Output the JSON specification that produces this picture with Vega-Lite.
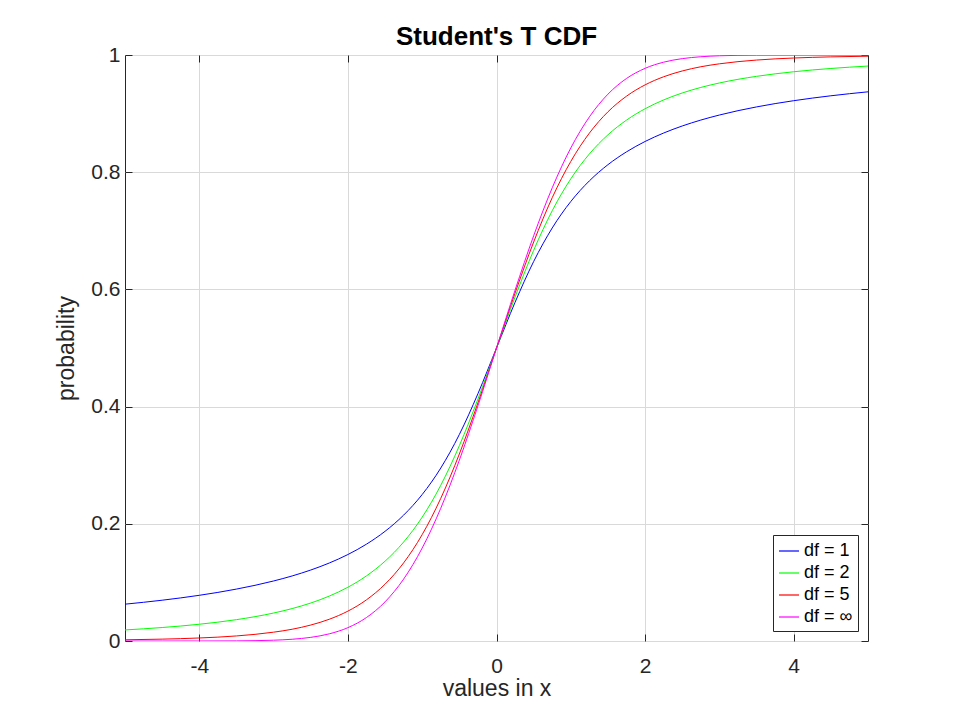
{
  "$schema": "https://vega.github.io/schema/vega-lite/v6.json",
  "width": 743,
  "height": 586,
  "autosize": {"type": "none"},
  "padding": {"left": 125, "top": 55, "right": 92, "bottom": 79},
  "background": "white",
  "config": {
    "font": "Liberation Sans",
    "view": {"stroke": "#262626", "strokeWidth": 1}
  },
  "title": {"text": "Student's T CDF", "fontSize": 26, "fontWeight": "bold", "color": "#000000", "offset": -6, "font": "Liberation Sans"},
  "data": {"values": [
    {"x": -5, "p": 0.06283, "df": "df = 1"}, {"x": -4.5, "p": 0.06960, "df": "df = 1"}, {"x": -4, "p": 0.07798, "df": "df = 1"}, {"x": -3.5, "p": 0.08859, "df": "df = 1"}, {"x": -3, "p": 0.10242, "df": "df = 1"}, {"x": -2.75, "p": 0.11102, "df": "df = 1"}, {"x": -2.5, "p": 0.12112, "df": "df = 1"}, {"x": -2.25, "p": 0.13313, "df": "df = 1"}, {"x": -2, "p": 0.14758, "df": "df = 1"}, {"x": -1.75, "p": 0.16525, "df": "df = 1"}, {"x": -1.5, "p": 0.18717, "df": "df = 1"}, {"x": -1.25, "p": 0.21478, "df": "df = 1"}, {"x": -1, "p": 0.25, "df": "df = 1"}, {"x": -0.75, "p": 0.29517, "df": "df = 1"}, {"x": -0.5, "p": 0.35242, "df": "df = 1"}, {"x": -0.25, "p": 0.42202, "df": "df = 1"}, {"x": 0, "p": 0.5, "df": "df = 1"}, {"x": 0.25, "p": 0.57798, "df": "df = 1"}, {"x": 0.5, "p": 0.64758, "df": "df = 1"}, {"x": 0.75, "p": 0.70483, "df": "df = 1"}, {"x": 1, "p": 0.75, "df": "df = 1"}, {"x": 1.25, "p": 0.78522, "df": "df = 1"}, {"x": 1.5, "p": 0.81283, "df": "df = 1"}, {"x": 1.75, "p": 0.83475, "df": "df = 1"}, {"x": 2, "p": 0.85242, "df": "df = 1"}, {"x": 2.25, "p": 0.86687, "df": "df = 1"}, {"x": 2.5, "p": 0.87888, "df": "df = 1"}, {"x": 2.75, "p": 0.88898, "df": "df = 1"}, {"x": 3, "p": 0.89758, "df": "df = 1"}, {"x": 3.5, "p": 0.91141, "df": "df = 1"}, {"x": 4, "p": 0.92202, "df": "df = 1"}, {"x": 4.5, "p": 0.93040, "df": "df = 1"}, {"x": 5, "p": 0.93717, "df": "df = 1"},
    {"x": -5, "p": 0.01887, "df": "df = 2"}, {"x": -4.5, "p": 0.02300, "df": "df = 2"}, {"x": -4, "p": 0.02860, "df": "df = 2"}, {"x": -3.5, "p": 0.03641, "df": "df = 2"}, {"x": -3, "p": 0.04773, "df": "df = 2"}, {"x": -2.75, "p": 0.05535, "df": "df = 2"}, {"x": -2.5, "p": 0.06481, "df": "df = 2"}, {"x": -2.25, "p": 0.07667, "df": "df = 2"}, {"x": -2, "p": 0.09175, "df": "df = 2"}, {"x": -1.75, "p": 0.11111, "df": "df = 2"}, {"x": -1.5, "p": 0.13619, "df": "df = 2"}, {"x": -1.25, "p": 0.16887, "df": "df = 2"}, {"x": -1, "p": 0.21132, "df": "df = 2"}, {"x": -0.75, "p": 0.26574, "df": "df = 2"}, {"x": -0.5, "p": 0.33333, "df": "df = 2"}, {"x": -0.25, "p": 0.41296, "df": "df = 2"}, {"x": 0, "p": 0.5, "df": "df = 2"}, {"x": 0.25, "p": 0.58704, "df": "df = 2"}, {"x": 0.5, "p": 0.66667, "df": "df = 2"}, {"x": 0.75, "p": 0.73426, "df": "df = 2"}, {"x": 1, "p": 0.78868, "df": "df = 2"}, {"x": 1.25, "p": 0.83113, "df": "df = 2"}, {"x": 1.5, "p": 0.86381, "df": "df = 2"}, {"x": 1.75, "p": 0.88889, "df": "df = 2"}, {"x": 2, "p": 0.90825, "df": "df = 2"}, {"x": 2.25, "p": 0.92333, "df": "df = 2"}, {"x": 2.5, "p": 0.93519, "df": "df = 2"}, {"x": 2.75, "p": 0.94465, "df": "df = 2"}, {"x": 3, "p": 0.95227, "df": "df = 2"}, {"x": 3.5, "p": 0.96359, "df": "df = 2"}, {"x": 4, "p": 0.97140, "df": "df = 2"}, {"x": 4.5, "p": 0.97700, "df": "df = 2"}, {"x": 5, "p": 0.98113, "df": "df = 2"},
    {"x": -5, "p": 0.00205, "df": "df = 5"}, {"x": -4.5, "p": 0.00318, "df": "df = 5"}, {"x": -4, "p": 0.00516, "df": "df = 5"}, {"x": -3.5, "p": 0.00862, "df": "df = 5"}, {"x": -3, "p": 0.01505, "df": "df = 5"}, {"x": -2.75, "p": 0.02006, "df": "df = 5"}, {"x": -2.5, "p": 0.02724, "df": "df = 5"}, {"x": -2.25, "p": 0.03714, "df": "df = 5"}, {"x": -2, "p": 0.05097, "df": "df = 5"}, {"x": -1.75, "p": 0.07026, "df": "df = 5"}, {"x": -1.5, "p": 0.09695, "df": "df = 5"}, {"x": -1.25, "p": 0.13331, "df": "df = 5"}, {"x": -1, "p": 0.18161, "df": "df = 5"}, {"x": -0.75, "p": 0.24349, "df": "df = 5"}, {"x": -0.5, "p": 0.31915, "df": "df = 5"}, {"x": -0.25, "p": 0.40627, "df": "df = 5"}, {"x": 0, "p": 0.5, "df": "df = 5"}, {"x": 0.25, "p": 0.59373, "df": "df = 5"}, {"x": 0.5, "p": 0.68085, "df": "df = 5"}, {"x": 0.75, "p": 0.75651, "df": "df = 5"}, {"x": 1, "p": 0.81839, "df": "df = 5"}, {"x": 1.25, "p": 0.86669, "df": "df = 5"}, {"x": 1.5, "p": 0.90305, "df": "df = 5"}, {"x": 1.75, "p": 0.92974, "df": "df = 5"}, {"x": 2, "p": 0.94903, "df": "df = 5"}, {"x": 2.25, "p": 0.96286, "df": "df = 5"}, {"x": 2.5, "p": 0.97276, "df": "df = 5"}, {"x": 2.75, "p": 0.97994, "df": "df = 5"}, {"x": 3, "p": 0.98495, "df": "df = 5"}, {"x": 3.5, "p": 0.99138, "df": "df = 5"}, {"x": 4, "p": 0.99484, "df": "df = 5"}, {"x": 4.5, "p": 0.99682, "df": "df = 5"}, {"x": 5, "p": 0.99795, "df": "df = 5"},
    {"x": -5, "p": 0.0, "df": "df = ∞"}, {"x": -4.5, "p": 0.0, "df": "df = ∞"}, {"x": -4, "p": 0.00003, "df": "df = ∞"}, {"x": -3.5, "p": 0.00023, "df": "df = ∞"}, {"x": -3, "p": 0.00135, "df": "df = ∞"}, {"x": -2.75, "p": 0.00298, "df": "df = ∞"}, {"x": -2.5, "p": 0.00621, "df": "df = ∞"}, {"x": -2.25, "p": 0.01222, "df": "df = ∞"}, {"x": -2, "p": 0.02275, "df": "df = ∞"}, {"x": -1.75, "p": 0.04006, "df": "df = ∞"}, {"x": -1.5, "p": 0.06681, "df": "df = ∞"}, {"x": -1.25, "p": 0.10565, "df": "df = ∞"}, {"x": -1, "p": 0.15866, "df": "df = ∞"}, {"x": -0.75, "p": 0.22663, "df": "df = ∞"}, {"x": -0.5, "p": 0.30854, "df": "df = ∞"}, {"x": -0.25, "p": 0.40129, "df": "df = ∞"}, {"x": 0, "p": 0.5, "df": "df = ∞"}, {"x": 0.25, "p": 0.59871, "df": "df = ∞"}, {"x": 0.5, "p": 0.69146, "df": "df = ∞"}, {"x": 0.75, "p": 0.77337, "df": "df = ∞"}, {"x": 1, "p": 0.84134, "df": "df = ∞"}, {"x": 1.25, "p": 0.89435, "df": "df = ∞"}, {"x": 1.5, "p": 0.93319, "df": "df = ∞"}, {"x": 1.75, "p": 0.95994, "df": "df = ∞"}, {"x": 2, "p": 0.97725, "df": "df = ∞"}, {"x": 2.25, "p": 0.98778, "df": "df = ∞"}, {"x": 2.5, "p": 0.99379, "df": "df = ∞"}, {"x": 2.75, "p": 0.99702, "df": "df = ∞"}, {"x": 3, "p": 0.99865, "df": "df = ∞"}, {"x": 3.5, "p": 0.99977, "df": "df = ∞"}, {"x": 4, "p": 0.99997, "df": "df = ∞"}, {"x": 4.5, "p": 1.0, "df": "df = ∞"}, {"x": 5, "p": 1.0, "df": "df = ∞"}
  ]},
  "layer": [
    {
      "mark": {"type": "line", "strokeWidth": 1, "interpolate": "monotone", "clip": true},
      "encoding": {
        "x": {"field": "x", "type": "quantitative", "scale": {"domain": [-5, 5], "nice": false, "zero": false},
          "axis": {"title": "values in x", "values": [-4, -2, 0, 2, 4], "labelExpr": "'' + datum.value", "tickSize": -7, "tickColor": "#262626", "domain": false,
            "labelFontSize": 21, "labelColor": "#262626", "labelPadding": 21, "titleFontSize": 23, "titleFontWeight": "normal", "titleColor": "#262626", "titlePadding": 1,
            "gridColor": "#d9d9d9", "grid": true}},
        "y": {"field": "p", "type": "quantitative", "scale": {"domain": [0, 1], "nice": false},
          "axis": {"title": "probability", "values": [0, 0.2, 0.4, 0.6, 0.8, 1], "labelExpr": "'' + datum.value", "tickSize": -7, "tickColor": "#262626", "domain": false,
            "labelFontSize": 21, "labelColor": "#262626", "labelPadding": 12, "titleFontSize": 23, "titleFontWeight": "normal", "titleColor": "#262626", "titlePadding": 12,
            "gridColor": "#d9d9d9", "grid": true}},
        "color": {"field": "df", "type": "nominal",
          "scale": {"domain": ["df = 1", "df = 2", "df = 5", "df = ∞"], "range": ["#0000ff", "#00ff00", "#ff0000", "#ff00ff"]},
          "legend": {"title": null, "orient": "none", "legendX": 648, "legendY": 480, "strokeColor": "#262626", "fillColor": "white",
            "padding": 5, "symbolType": "stroke", "symbolSize": 400, "symbolStrokeWidth": 1.2, "labelFontSize": 18, "labelColor": "#000000",
            "rowPadding": 2, "labelOffset": 4}}
      }
    },
    {
      "mark": {"type": "line", "opacity": 0},
      "encoding": {
        "x": {"field": "x", "type": "quantitative", "axis": {"orient": "top", "title": null, "labels": false, "grid": false, "domain": false, "values": [-4, -2, 0, 2, 4], "tickSize": -7, "tickColor": "#262626"}},
        "y": {"field": "p", "type": "quantitative", "axis": {"orient": "right", "title": null, "labels": false, "grid": false, "domain": false, "values": [0, 0.2, 0.4, 0.6, 0.8, 1], "tickSize": -7, "tickColor": "#262626"}},
        "detail": {"field": "df"}
      }
    }
  ],
  "resolve": {"axis": {"x": "independent", "y": "independent"}}
}
